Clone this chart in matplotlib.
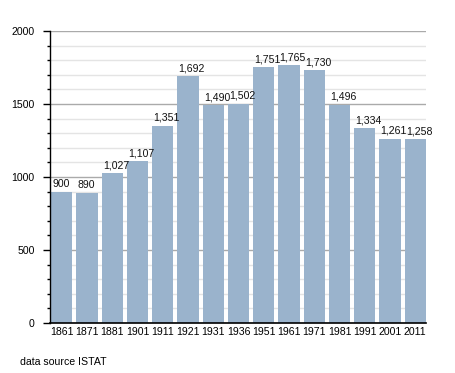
import matplotlib
matplotlib.use("Agg")
import matplotlib.pyplot as plt
from matplotlib.ticker import MultipleLocator

years = ["1861", "1871", "1881", "1901", "1911", "1921", "1931", "1936",
         "1951", "1961", "1971", "1981", "1991", "2001", "2011"]
population = [900, 890, 1027, 1107, 1351, 1692, 1490, 1502,
              1751, 1765, 1730, 1496, 1334, 1261, 1258]

plt.rcParams['font.family'] = ['Liberation Sans', 'DejaVu Sans']

fig = plt.figure(figsize=(4.55, 3.73), dpi=100)
ax = fig.add_axes([50 / 455, 1 - 323 / 373, 376 / 455, 292 / 373])

width = 0.85
x = list(range(len(years)))
ax.bar(x, population, width=width, align='edge', color='#9ab3cc', zorder=2)

# value labels, left aligned on each bar
for xi, v in zip(x, population):
    ax.text(xi + 0.05, v + 34, f"{v:,}", ha='left', va='baseline', fontsize=7.6, color='#111111', zorder=3)

ax.set_xlim(-0.04, len(years) - 1 + width)
ax.set_ylim(0, 2000)
ax.set_xticks([xi + width / 2 for xi in x])
ax.set_xticklabels(years, fontsize=7.6)
ax.tick_params(axis='x', length=0, pad=3)

ax.yaxis.set_major_locator(MultipleLocator(500))
ax.yaxis.set_minor_locator(MultipleLocator(100))
ax.tick_params(axis='y', which='major', length=5, width=1, labelsize=7.6, pad=6)
ax.tick_params(axis='y', which='minor', length=2, width=1)
ax.grid(axis='y', which='major', color='#aaaaaa', linewidth=1, zorder=0)
ax.grid(axis='y', which='minor', color='#e4e4e4', linewidth=1, zorder=0)

for s in ['top', 'right']:
    ax.spines[s].set_visible(False)
ax.spines['left'].set_linewidth(1)
ax.spines['bottom'].set_linewidth(1.2)

fig.text(20 / 455, 1 - 362 / 373, "data source ISTAT", fontsize=7.6, va='center', ha='left')

fig.savefig("out.png", dpi=100)
